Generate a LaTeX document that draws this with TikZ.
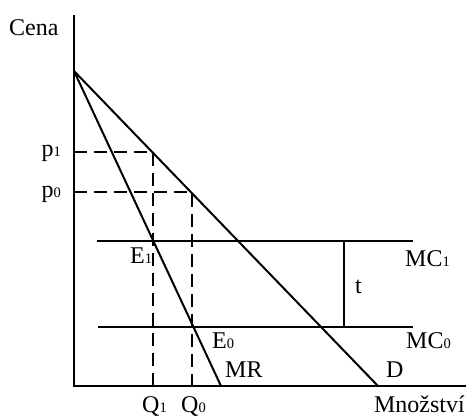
\documentclass[tikz,border=0pt]{standalone}
\usepackage{fontspec}
\setmainfont{Liberation Serif}
\newcommand{\lo}[1]{{\fontsize{14.5}{14.5}\selectfont #1}}
\begin{document}
\begin{tikzpicture}[x=1pt,y=-1pt,
  axis/.style={line width=2pt},
  curve/.style={line width=2pt},
  guide/.style={line width=1.6pt,dash pattern=on 13pt off 7pt},
  gap/.style={line width=1.2pt},
  lab/.style={font=\fontsize{24}{25}\selectfont,inner sep=0pt,anchor=base west}]
\useasboundingbox (0,0) rectangle (466,417);
% axes
\coordinate (O) at (74,386);
\coordinate (Ytop) at (74,15);
\coordinate (Xend) at (467,386);
\draw[axis] (Ytop) -- (O) -- (Xend);
% curves
\coordinate (A) at (74,71);
\coordinate (Dend) at (378,386);
\coordinate (MRend) at (221,386);
\draw[curve] (A) -- (Dend);
\draw[curve] (A) -- (MRend);
% MC lines
\coordinate (MC1a) at (97,241);
\coordinate (MC1b) at (413,241);
\coordinate (MC0a) at (98,327);
\coordinate (MC0b) at (413,327);
\draw[curve] (MC1a) -- (MC1b);
\draw[curve] (MC0a) -- (MC0b);
% tariff gap
\coordinate (T1) at (344,241);
\coordinate (T0) at (344,327);
\draw[gap] (T1) -- (T0);
% guides
\coordinate (YP1) at (74,152);
\coordinate (P1) at (153,152);
\coordinate (XQ1) at (153,386);
\coordinate (YP0) at (74,192);
\coordinate (P0) at (192,192);
\coordinate (XQ0) at (192,386);
\draw[guide] (YP1) -- (P1) -- (XQ1);
\draw[guide] (YP0) -- (P0) -- (XQ0);
% labels
\node[lab] (cena) at (9,36) {Cena};
\node[lab,anchor=base east] (p1) at (61,157) {p\lo{1}};
\node[lab,anchor=base east] (p0) at (61,197) {p\lo{0}};
\node[lab] (e1) at (130,263) {E\lo{1}};
\node[lab] (e0) at (212,348) {E\lo{0}};
\node[lab] (mr) at (225,377) {MR};
\node[lab] (d) at (386,377) {D};
\node[lab] (mc1) at (405,266) {MC\lo{1}};
\node[lab] (mc0) at (406,348) {MC\lo{0}};
\node[lab] (t) at (355,293) {t};
\node[lab,anchor=base east] (mn) at (465,412) {Množství};
\node[lab] (q1) at (142,412) {Q\lo{1}};
\node[lab] (q0) at (181,412) {Q\lo{0}};
\end{tikzpicture}
\end{document}
